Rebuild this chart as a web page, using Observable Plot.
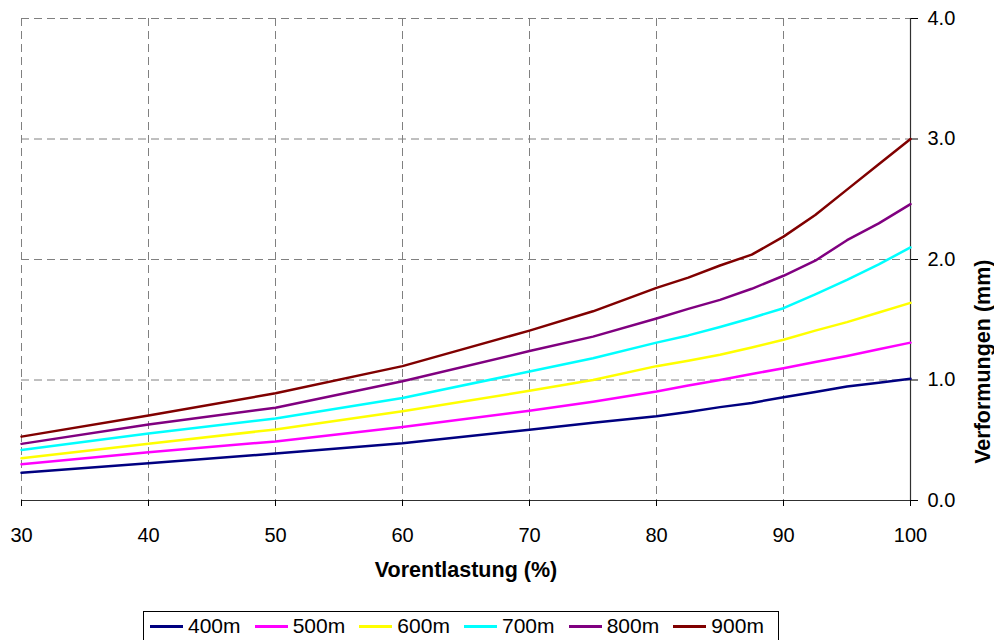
<!DOCTYPE html>
<html>
<head>
<meta charset="utf-8">
<script src="https://cdn.jsdelivr.net/npm/d3@7"></script>
<script src="https://cdn.jsdelivr.net/npm/@observablehq/plot@0.6"></script>
<style>
  body { margin: 0; background: #fff; font-family: "Liberation Sans", Arial, sans-serif; }
  #wrap { position: relative; width: 994px; height: 640px; overflow: hidden; }
  #legend { position: absolute; left: 143px; top: 611px; width: 636px; height: 30px; border: 1px solid #000; box-sizing: border-box;
            display: flex; align-items: center; padding-left: 6px; font-size: 21px; color: #000; }
  .item { display: flex; align-items: center; width: 106.6px; }
  .sw { width: 33px; height: 3px; margin-right: 5px; }
</style>
</head>
<body>
<div id="wrap"><div id="chart"></div><div id="legend"></div></div>
<script>
const xValues = [30, 40, 50, 60, 70, 75, 80, 82.5, 85, 87.5, 90, 92.5, 95, 97.5, 100];
const seriesNames = ["400m", "500m", "600m", "700m", "800m", "900m"];
const seriesColors = ["#000080", "#FF00FF", "#FFFF00", "#00FFFF", "#800080", "#800000"];
const v400 = [0.23, 0.31, 0.39, 0.475, 0.587, 0.645, 0.70, 0.735, 0.775, 0.81, 0.857, 0.90, 0.946, 0.977, 1.01];
const v500 = [0.30, 0.40, 0.49, 0.61, 0.745, 0.82, 0.905, 0.955, 1.00, 1.05, 1.098, 1.15, 1.20, 1.255, 1.31];
const v600 = [0.35, 0.47, 0.59, 0.74, 0.91, 1.00, 1.115, 1.16, 1.21, 1.27, 1.334, 1.41, 1.48, 1.56, 1.64];
const v700 = [0.42, 0.556, 0.68, 0.85, 1.07, 1.18, 1.31, 1.37, 1.44, 1.515, 1.596, 1.71, 1.83, 1.96, 2.10];
const v800 = [0.47, 0.63, 0.77, 0.99, 1.24, 1.36, 1.51, 1.59, 1.665, 1.757, 1.865, 1.99, 2.16, 2.30, 2.46];
const v900 = [0.53, 0.705, 0.89, 1.115, 1.41, 1.57, 1.765, 1.85, 1.95, 2.04, 2.19, 2.37, 2.58, 2.79, 3.00];
const xTicks = [30, 40, 50, 60, 70, 80, 90, 100];
const yTicks = [0, 1, 2, 3, 4];
const xTitle = "Vorentlastung (%)";
const yTitle = "Verformungen (mm)";

const allSeries = [v400, v500, v600, v700, v800, v900];
const data = [];
allSeries.forEach((vals, i) => vals.forEach((v, j) => data.push({x: xValues[j], y: v, s: seriesNames[i]})));

const chart = Plot.plot({
  width: 994,
  height: 600,
  marginTop: 18,
  marginRight: 84,
  marginBottom: 100,
  marginLeft: 21,
  style: {fontFamily: "'Liberation Sans', Arial, sans-serif", fontSize: "20px", color: "#000", background: "#fff"},
  x: {domain: [30, 100]},
  y: {domain: [0, 4]},
  color: {domain: seriesNames, range: seriesColors},
  marks: [
    Plot.gridX(xTicks, {stroke: "#808080", strokeOpacity: 1, strokeDasharray: "8,5"}),
    Plot.gridY(yTicks.filter(d => d > 0), {stroke: "#808080", strokeOpacity: 1, strokeDasharray: "8,5"}),
    Plot.ruleY([0], {stroke: "#303030", strokeWidth: 1.2}),
    Plot.ruleX([100], {stroke: "#303030", strokeWidth: 1.2}),
    Plot.axisX({ticks: xTicks, tickSize: 6, tickPadding: 21, label: null, stroke: "#000"}),
    Plot.axisY({anchor: "right", ticks: yTicks, tickFormat: d3.format(".1f"), tickSize: 7, tickPadding: 10, label: null}),
    Plot.line(data, {x: "x", y: "y", z: "s", stroke: "s", strokeWidth: 2.5}),
    Plot.text([xTitle], {frameAnchor: "bottom", dy: 76, text: d => d, fontWeight: "bold", fontSize: 21.5}),
    Plot.text([yTitle], {frameAnchor: "right", dx: 73, rotate: -90, text: d => d, fontWeight: "bold", fontSize: 21.5})
  ]
});
document.getElementById("chart").appendChild(chart);

const legend = document.getElementById("legend");
seriesNames.forEach((name, i) => {
  const it = document.createElement("div");
  it.className = "item";
  const sw = document.createElement("div");
  sw.className = "sw";
  sw.style.background = seriesColors[i];
  const t = document.createElement("span");
  t.textContent = name;
  it.appendChild(sw); it.appendChild(t);
  legend.appendChild(it);
});
</script>
</body>
</html>
